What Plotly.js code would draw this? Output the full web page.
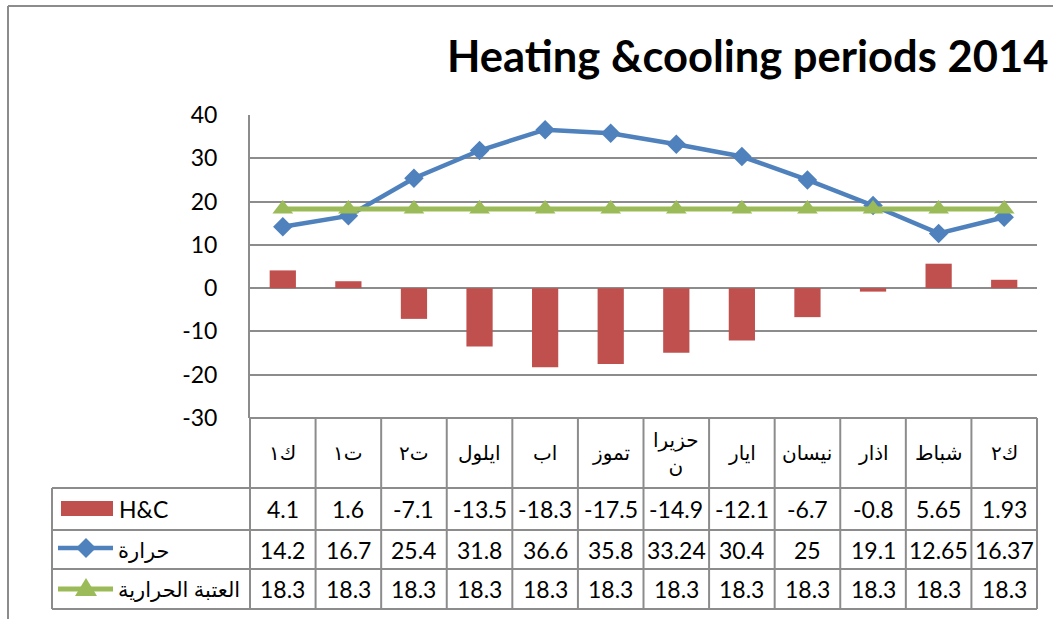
<!DOCTYPE html>
<html>
<head>
<meta charset="utf-8">
<script src="https://cdn.plot.ly/plotly-3.0.1.min.js"></script>
<style>html,body{margin:0;padding:0;background:#fff;}#chart{width:1053px;height:619px;}</style>
</head>
<body>
<div id="chart"></div>
<script>
// ---- data ----
const categories = ["ك١","ت١","ت٢","ايلول","اب","تموز","حزيران","ايار","نيسان","اذار","شباط","ك٢"];
const categoryLabels = ["ك١","ت١","ت٢","ايلول","اب","تموز","حزيرا<br>ن","ايار","نيسان","اذار","شباط","ك٢"];
const hcValues = [4.1, 1.6, -7.1, -13.5, -18.3, -17.5, -14.9, -12.1, -6.7, -0.8, 5.65, 1.93];
const tempValues = [14.2, 16.7, 25.4, 31.8, 36.6, 35.8, 33.24, 30.4, 25, 19.1, 12.65, 16.37];
const thresholdValues = [18.3, 18.3, 18.3, 18.3, 18.3, 18.3, 18.3, 18.3, 18.3, 18.3, 18.3, 18.3];
const seriesNames = ["H&C", "حرارة", "العتبة الحرارية"];
const yTickValues = [-30, -20, -10, 0, 10, 20, 30, 40];
const yTickLabels = ["-30", "-20", "-10", "0", "10", "20", "30", "40"];
const chartTitle = "Heating &cooling periods 2014";

// ---- geometry helpers (pixel -> paper) ----
const W = 1053, H = 619;
const PL = 250, PR = 1037, PT = 115, PB = 418;
const px = p => (p - PL) / (PR - PL);
const py = p => (PB - p) / (PB - PT);

const BAR = '#C0504D', BLUE = '#4F81BD', GREEN = '#9BBB59', GRID = '#8c8c8c';
const FONT = 'Lato, "DejaVu Sans", sans-serif';
const n = categories.length;

const traces = [
  {type:'bar', x:categories, y:hcValues, name:seriesNames[0], marker:{color:BAR}, width:0.4, hoverinfo:'skip'},
  {type:'scatter', mode:'lines+markers', x:categories, y:tempValues, name:seriesNames[1],
   line:{color:BLUE, width:4.5}, marker:{symbol:'diamond', size:15, color:BLUE}, hoverinfo:'skip'},
  {type:'scatter', mode:'lines+markers', x:categories, y:thresholdValues, name:seriesNames[2],
   line:{color:GREEN, width:5}, marker:{symbol:'triangle-up', size:18, color:GREEN}, hoverinfo:'skip'}
];

// ---- table (shapes + annotations) ----
const rowLines = [488, 530, 569, 609];
const rowCenters = [509, 549.5, 589];
const tableLeft = 52;
const shapes = [];
const line = (x0,y0,x1,y1,color,w) => shapes.push({type:'line', xref:'paper', yref:'paper',
  x0:px(x0), y0:py(y0), x1:px(x1), y1:py(y1), line:{color:color||GRID, width:w||2}});

line(PL, PB, PR, PB);
rowLines.forEach(r => line(tableLeft, r, PR, r));
line(tableLeft, rowLines[0], tableLeft, rowLines[3]);
for (let i = 0; i <= n; i++) {
  const xx = PL + i * (PR - PL) / n;
  line(xx, PB, xx, rowLines[3]);
}
// outer frame of the embedded chart
line(8, 6, W, 6, '#8c8c8c', 2);
line(8, 6, 8, H, '#8c8c8c', 2);

// legend keys
shapes.push({type:'rect', xref:'paper', yref:'paper', x0:px(61), x1:px(113), y0:py(516), y1:py(501),
  fillcolor:BAR, line:{width:0}});
line(58, 548, 113, 548, BLUE, 4.5);
shapes.push({type:'path', xref:'paper', yref:'paper', xsizemode:'pixel', ysizemode:'pixel',
  xanchor:px(86), yanchor:py(548), path:'M0,10 L10,0 L0,-10 L-10,0 Z', fillcolor:BLUE, line:{width:0}});
line(58, 589, 113, 589, GREEN, 5);
shapes.push({type:'path', xref:'paper', yref:'paper', xsizemode:'pixel', ysizemode:'pixel',
  xanchor:px(86), yanchor:py(589), path:'M-11,-7 L11,-7 L0,11 Z', fillcolor:GREEN, line:{width:0}});

const annotations = [];
const txt = (x, xref, y, text, xanchor, size) => annotations.push({x:x, xref:xref, y:py(y), yref:'paper',
  text:text, showarrow:false, xanchor:xanchor||'center', yanchor:'middle',
  font:{family:FONT, size:size||23, color:'#000'}});

categories.forEach((c, i) => {
  annotations.push({x:c, xref:'x', y:py(453), yref:'paper', text:categoryLabels[i], showarrow:false,
    xanchor:'center', yanchor:'middle', font:{family:'"DejaVu Sans", sans-serif', size:20, color:'#000'}});
  txt(c, 'x', rowCenters[0], String(hcValues[i]));
  txt(c, 'x', rowCenters[1], String(tempValues[i]));
  txt(c, 'x', rowCenters[2], String(thresholdValues[i]));
});
txt(px(117), 'paper', rowCenters[0], seriesNames[0], 'left');
txt(px(116), 'paper', rowCenters[1], seriesNames[1], 'left', 21);
txt(px(116), 'paper', rowCenters[2], seriesNames[2], 'left', 21);

const layout = {
  width:W, height:H,
  margin:{l:PL, r:W-PR, t:PT, b:H-PB, pad:0},
  paper_bgcolor:'#fff', plot_bgcolor:'#fff',
  showlegend:false,
  title:{text:'<b>' + chartTitle + '</b>', xref:'container', yref:'container', x:447/W, xanchor:'left',
    y:1-57/H, yanchor:'middle', font:{family:FONT, size:43.5, color:'#000'}},
  xaxis:{type:'category', range:[-0.5, n-0.5], showgrid:false, showticklabels:false, showline:false,
    zeroline:false, ticks:'', fixedrange:true},
  yaxis:{range:[-30, 40], tickmode:'array', tickvals:yTickValues, ticktext:yTickLabels,
    showgrid:true, gridcolor:GRID, gridwidth:2,
    zeroline:true, zerolinecolor:GRID, zerolinewidth:2, showline:true, linecolor:GRID, linewidth:2,
    ticks:'', ticklabelstandoff:26, tickfont:{family:FONT, size:23, color:'#000'}, fixedrange:true},
  shapes:shapes, annotations:annotations
};

Plotly.newPlot('chart', traces, layout, {staticPlot:true, displayModeBar:false});
</script>
</body>
</html>
